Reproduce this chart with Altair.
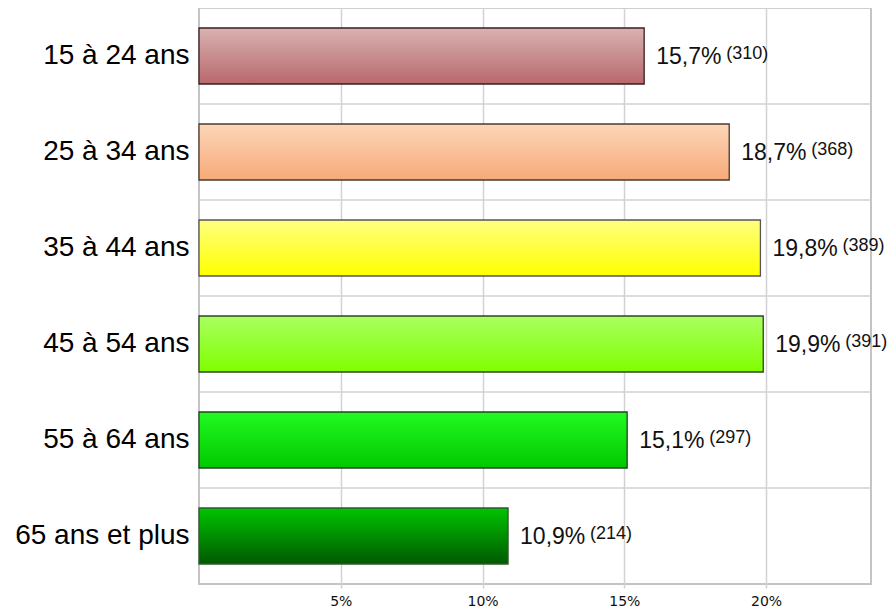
import altair as alt
import pandas as pd

categories = ["15 à 24 ans", "25 à 34 ans", "35 à 44 ans", "45 à 54 ans", "55 à 64 ans", "65 ans et plus"]
percents = [15.7, 18.7, 19.8, 19.9, 15.1, 10.9]
counts = [310, 368, 389, 391, 297, 214]
x_ticks = [5, 10, 15, 20]

grad_top = ["#d9b2b2", "#fcd6b8", "#ffff80", "#aaff60", "#22fa22", "#00c400"]
grad_bottom = ["#b8686c", "#f7aa78", "#ffff00", "#80ff00", "#00c800", "#005800"]
strokes = ["#3b1e1e", "#4a3a30", "#555555", "#2f4420", "#204420", "#2f5a2f"]

df = pd.DataFrame({
    "cat": categories,
    "pct": percents,
    "n": counts,
})
df["main"] = df["pct"].map(lambda v: f"{v:.1f}".replace(".", ",") + "%")
df["sup"] = df["n"].map(lambda v: f"({v})")

x_scale = alt.Scale(domain=[0, 23.7], nice=False, zero=True)
y_scale = alt.Scale(domain=categories, paddingInner=0.4167, paddingOuter=0.2083)

x_axis = alt.Axis(values=x_ticks, labelExpr="datum.value + '%'", grid=True,
                  gridColor="#d2d2d2", gridWidth=1.5, domain=False,
                  ticks=True, tickColor="#d2d2d2", tickSize=4, tickWidth=1.5,
                  labelFont="DejaVu Sans", labelFontSize=14, labelColor="#111111",
                  labelPadding=6, labelBaseline="top", title=None)
y_axis = alt.Axis(grid=False, domain=False, ticks=False, labelFont="Liberation Sans",
                  labelFontSize=28, labelColor="#000000", labelPadding=10,
                  labelLimit=300, title=None)

base = alt.Chart(df)

# horizontal grid lines halfway between bars (band start shifted up by half the gap)
grid_layer = base.mark_rule(color="#d2d2d2", strokeWidth=1.5, yOffset=-20).encode(
    y=alt.Y("cat:N", scale=y_scale, sort=categories, bandPosition=0, axis=y_axis),
)

bar_layers = []
for i, c in enumerate(categories):
    grad = alt.LinearGradient(
        gradient="linear",
        stops=[alt.GradientStop(color=grad_top[i], offset=0),
               alt.GradientStop(color=grad_bottom[i], offset=1)],
        x1=0, x2=0, y1=0, y2=1,
    )
    bar_layers.append(
        base.transform_filter(alt.datum.cat == c).mark_bar(
            color=grad, stroke=strokes[i], strokeWidth=1.3
        ).encode(
            x=alt.X("pct:Q", scale=x_scale, axis=x_axis),
            y=alt.Y("cat:N", scale=y_scale, sort=categories),
        )
    )

main_text = base.mark_text(align="left", baseline="alphabetic", dx=12, dy=8,
                           font="Liberation Sans", fontSize=23, color="#111111").encode(
    x=alt.X("pct:Q", scale=x_scale),
    y=alt.Y("cat:N", scale=y_scale, sort=categories),
    text="main:N",
)
sup_text = base.mark_text(align="left", baseline="alphabetic", dx=82, dy=3,
                          font="Liberation Sans", fontSize=18, color="#111111").encode(
    x=alt.X("pct:Q", scale=x_scale),
    y=alt.Y("cat:N", scale=y_scale, sort=categories),
    text="sup:N",
)

chart = alt.layer(grid_layer, *bar_layers, main_text, sup_text).properties(
    width=672, height=576,
    autosize=alt.AutoSizeParams(type="none"),
    padding={"left": 191, "top": 0, "right": 17, "bottom": 26},
    background="white",
).configure_view(stroke="#c4c4c4", strokeWidth=2)

chart.save("out.html", embed_options={"renderer": "svg", "actions": False})
